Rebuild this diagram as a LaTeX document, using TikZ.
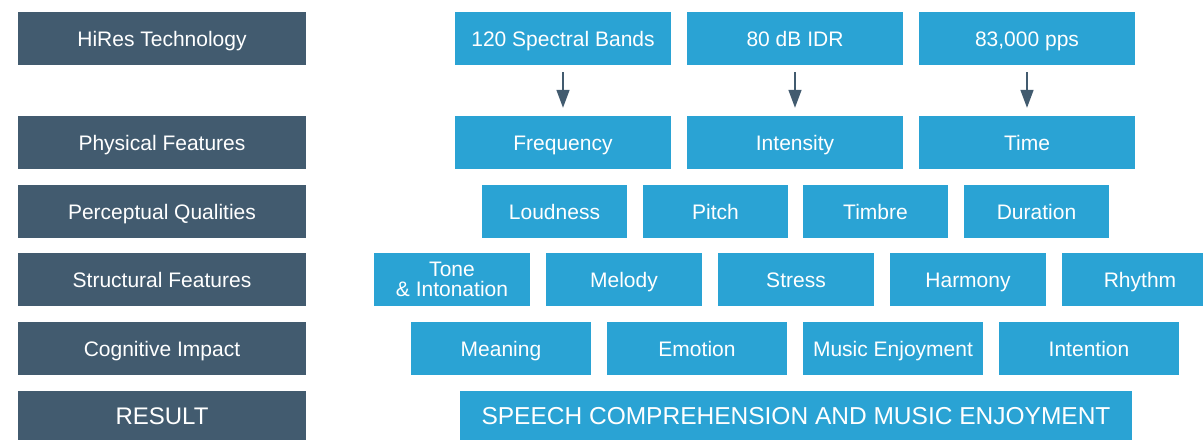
\documentclass[tikz,border=0pt]{standalone}
\usepackage{fontspec}
\setmainfont{Liberation Sans}
\usetikzlibrary{arrows.meta}
\definecolor{slate}{HTML}{425B6F}
\definecolor{skyblue}{HTML}{2AA3D4}
\tikzset{
  cell/.style={rectangle, inner sep=0pt, text=white,
    font=\fontsize{21}{21}\selectfont, text height=15pt, text depth=0pt},
  rowlabel/.style={cell, fill=slate, minimum width=288pt, minimum height=53pt},
  bluebox/.style={cell, fill=skyblue, minimum height=53pt},
  wide/.style={bluebox, minimum width=216pt},
  mid/.style={bluebox, minimum width=145pt},
  narrow/.style={bluebox, minimum width=156pt},
  impact/.style={bluebox, minimum width=180pt},
  flow/.style={draw=slate, line width=1.6pt,
    -{Triangle[width=13pt,length=18pt]}, shorten <=7pt, shorten >=8pt}
}
\begin{document}
\begin{tikzpicture}[x=1pt,y=-1pt]
\useasboundingbox (0,0) rectangle (1203,440);
\clip (0,0) rectangle (1203,440);

% row labels
\node[rowlabel] (lhires) at (162,38.5) {HiRes Technology};
\node[rowlabel] (lphys)  at (162,142.5) {Physical Features};
\node[rowlabel] (lperc)  at (162,211.5) {Perceptual Qualities};
\node[rowlabel] (lstruc) at (162,279.5) {Structural Features};
\node[rowlabel] (lcogn)  at (162,348.5) {Cognitive Impact};
\node[rowlabel, minimum height=49pt, font=\fontsize{24}{24}\selectfont, text height=17.2pt]
  (lres) at (162,415.5) {RESULT};

% technology
\node[wide] (bands) at (563,38.5) {120 Spectral Bands};
\node[wide] (idr)   at (795,38.5) {80 dB IDR};
\node[wide] (pps)   at (1027,38.5) {83,000 pps};

% physical features
\node[wide] (freq) at (563,142.5) {Frequency};
\node[wide] (inte) at (795,142.5) {Intensity};
\node[wide] (time) at (1027,142.5) {Time};

\draw[flow] (bands) -- (freq);
\draw[flow] (idr) -- (inte);
\draw[flow] (pps) -- (time);

% perceptual qualities
\node[mid] (loud)  at (554.5,211.5) {Loudness};
\node[mid] (pitch) at (715.5,211.5) {Pitch};
\node[mid] (timb)  at (875.5,211.5) {Timbre};
\node[mid] (dur)   at (1036.5,211.5) {Duration};

% structural features
\node[narrow, align=center, text height=, text depth=] (tone) at (452,279.5)
  {Tone\\[-1pt]\& Intonation};
\node[narrow] (melo) at (624,279.5) {Melody};
\node[narrow] (stre) at (796,279.5) {Stress};
\node[narrow] (harm) at (968,279.5) {Harmony};
\node[narrow] (rhyt) at (1140,279.5) {Rhythm};

% cognitive impact
\node[impact] (mean) at (501,348.5) {Meaning};
\node[impact] (emot) at (697,348.5) {Emotion};
\node[impact] (enjo) at (893,348.5) {Music Enjoyment};
\node[impact] (inten) at (1089,348.5) {Intention};

% result
\node[bluebox, minimum width=672pt, minimum height=49pt,
  font=\fontsize{24.5}{24.5}\selectfont, text height=17.5pt]
  (res) at (796,415.5) {SPEECH COMPREHENSION AND MUSIC ENJOYMENT};
\end{tikzpicture}
\end{document}
